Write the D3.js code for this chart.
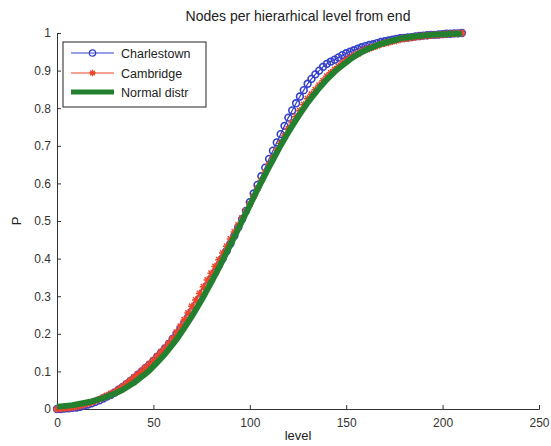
<!DOCTYPE html>
<html>
<head>
<meta charset="utf-8">
<script src="https://cdn.jsdelivr.net/npm/d3@7"></script>
<style>
  body { margin: 0; background: #fff; }
  svg { display: block; font-family: "Liberation Sans", Arial, sans-serif; }
</style>
</head>
<body>
<svg id="chart" width="551" height="446"></svg>
<script>
// levels on the x axis (every 2nd level, 0..210)
const levels = d3.range(0, 211, 2);

// cumulative share of nodes
const charlestown = [
  0.000, 0.000, 0.001, 0.002, 0.003, 0.004, 0.006, 0.009, 0.012, 0.015,
  0.019, 0.023, 0.028, 0.033, 0.038, 0.044, 0.051, 0.058, 0.066, 0.074,
  0.082, 0.091, 0.100, 0.109, 0.118, 0.128, 0.139, 0.150, 0.161, 0.173,
  0.186, 0.200, 0.214, 0.229, 0.244, 0.260, 0.276, 0.293, 0.310, 0.327,
  0.345, 0.363, 0.382, 0.401, 0.420, 0.440, 0.461, 0.483, 0.505, 0.527,
  0.550, 0.573, 0.596, 0.619, 0.642, 0.665, 0.687, 0.709, 0.731, 0.753,
  0.775, 0.794, 0.813, 0.831, 0.848, 0.865, 0.878, 0.890, 0.900, 0.910,
  0.918, 0.924, 0.929, 0.935, 0.941, 0.946, 0.950, 0.954, 0.958, 0.962,
  0.965, 0.968, 0.970, 0.973, 0.976, 0.978, 0.980, 0.982, 0.984, 0.986,
  0.987, 0.988, 0.989, 0.991, 0.992, 0.993, 0.994, 0.995, 0.995, 0.996,
  0.997, 0.998, 0.998, 0.999, 0.999, 1.000
];

const cambridge = [
  0.000, 0.001, 0.002, 0.003, 0.004, 0.006, 0.009, 0.012, 0.015, 0.018,
  0.022, 0.026, 0.031, 0.036, 0.041, 0.046, 0.053, 0.060, 0.068, 0.076,
  0.085, 0.093, 0.102, 0.111, 0.120, 0.130, 0.141, 0.152, 0.163, 0.175,
  0.188, 0.204, 0.220, 0.237, 0.255, 0.273, 0.290, 0.307, 0.325, 0.343,
  0.361, 0.379, 0.397, 0.415, 0.433, 0.452, 0.471, 0.489, 0.508, 0.526,
  0.545, 0.566, 0.587, 0.608, 0.629, 0.650, 0.669, 0.688, 0.707, 0.726,
  0.745, 0.761, 0.777, 0.793, 0.809, 0.825, 0.837, 0.849, 0.861, 0.873,
  0.885, 0.894, 0.903, 0.911, 0.920, 0.928, 0.934, 0.940, 0.945, 0.951,
  0.956, 0.959, 0.963, 0.966, 0.970, 0.973, 0.975, 0.978, 0.980, 0.983,
  0.985, 0.986, 0.988, 0.989, 0.991, 0.992, 0.993, 0.994, 0.995, 0.995,
  0.996, 0.997, 0.998, 0.998, 0.999, 1.000
];

const normalDistr = [
  0.006, 0.007, 0.008, 0.009, 0.010, 0.012, 0.014, 0.016, 0.018, 0.020,
  0.023, 0.026, 0.029, 0.033, 0.037, 0.041, 0.046, 0.051, 0.057, 0.064,
  0.070, 0.078, 0.086, 0.094, 0.103, 0.113, 0.124, 0.135, 0.146, 0.159,
  0.172, 0.185, 0.200, 0.215, 0.231, 0.247, 0.264, 0.281, 0.299, 0.318,
  0.337, 0.356, 0.376, 0.396, 0.417, 0.437, 0.458, 0.479, 0.500, 0.521,
  0.542, 0.563, 0.584, 0.604, 0.624, 0.644, 0.663, 0.682, 0.701, 0.719,
  0.736, 0.753, 0.769, 0.785, 0.800, 0.815, 0.828, 0.841, 0.854, 0.865,
  0.877, 0.887, 0.897, 0.906, 0.914, 0.922, 0.930, 0.937, 0.943, 0.949,
  0.954, 0.959, 0.963, 0.967, 0.971, 0.974, 0.977, 0.980, 0.982, 0.985,
  0.987, 0.988, 0.990, 0.991, 0.992, 0.993, 0.994, 0.995, 0.996, 0.996,
  0.997, 0.997, 0.998, 0.998, 0.998, 0.999
];

const xTicks = [0, 50, 100, 150, 200, 250];
const yTicks = [0, 0.1, 0.2, 0.3, 0.4, 0.5, 0.6, 0.7, 0.8, 0.9, 1];
const seriesNames = ['Charlestown', 'Cambridge', 'Normal distr'];

const blue = '#3340cc';
const red = '#f0442a';
const green = '#23802f';

const svg = d3.select('#chart');
const margin = { left: 57, right: 12, top: 33, bottom: 37 };
const width = 551 - margin.left - margin.right;
const height = 446 - margin.top - margin.bottom;

const x = d3.scaleLinear().domain([0, 250]).range([0, width]);
const y = d3.scaleLinear().domain([0, 1]).range([height, 0]);

const g = svg.append('g').attr('transform', `translate(${margin.left},${margin.top})`);

// axes (matlab style: ticks inward, no box)
const xAxis = g.append('g')
  .attr('transform', `translate(0,${height})`)
  .call(d3.axisBottom(x).tickValues(xTicks).tickSize(-4).tickPadding(9).tickFormat(d3.format('d')));
const yAxis = g.append('g')
  .call(d3.axisLeft(y).tickValues(yTicks).tickSize(-4).tickPadding(6).tickFormat(d => d === 0 || d === 1 ? d : d3.format('.1f')(d)));

[xAxis, yAxis].forEach(a => {
  a.select('.domain').attr('stroke', '#333').attr('stroke-width', 1);
  a.selectAll('.tick line').attr('stroke', '#333');
  a.selectAll('.tick text').attr('fill', '#333').style('font-size', '12px').style('font-family', '"Liberation Sans", Arial, sans-serif');
});

// series
const data = levels.map((l, i) => ({ level: l, c: charlestown[i], b: cambridge[i], n: normalDistr[i] }));
const lineOf = key => d3.line().x(d => x(d.level)).y(d => y(d[key]));

// Charlestown: blue line with circles
g.append('path').datum(data).attr('d', lineOf('c'))
  .attr('fill', 'none').attr('stroke', blue).attr('stroke-width', 1.2);
g.append('g').selectAll('circle').data(data).enter().append('circle')
  .attr('cx', d => x(d.level)).attr('cy', d => y(d.c)).attr('r', 3.4)
  .attr('fill', 'none').attr('stroke', blue).attr('stroke-width', 1.6);

// Cambridge: red line with star markers
const star = (cx, cy, s) => {
  const k = s * 0.72;
  return `M${cx - s},${cy}H${cx + s}M${cx},${cy - s}V${cy + s}` +
    `M${cx - k},${cy - k}L${cx + k},${cy + k}M${cx - k},${cy + k}L${cx + k},${cy - k}`;
};
g.append('path').datum(data).attr('d', lineOf('b'))
  .attr('fill', 'none').attr('stroke', red).attr('stroke-width', 1.2);
g.append('g').selectAll('path').data(data).enter().append('path')
  .attr('d', d => star(x(d.level), y(d.b), 3.8))
  .attr('stroke', red).attr('stroke-width', 1.5);

// Normal distribution: thick green line
g.append('path').datum(data).attr('d', lineOf('n'))
  .attr('fill', 'none').attr('stroke', green).attr('stroke-width', 6);

// labels
svg.append('text').attr('x', margin.left + width / 2).attr('y', 21)
  .attr('text-anchor', 'middle').style('font-size', '14px').attr('fill', '#222')
  .text('Nodes per hierarhical level from end');
svg.append('text').attr('x', margin.left + width / 2).attr('y', 440)
  .attr('text-anchor', 'middle').style('font-size', '13px').attr('fill', '#222')
  .text('level');
svg.append('text').attr('transform', `translate(21,${margin.top + height / 2}) rotate(-90)`)
  .attr('text-anchor', 'middle').style('font-size', '13px').attr('fill', '#222')
  .text('P');

// legend
const legend = svg.append('g').attr('transform', 'translate(63,42)');
legend.append('rect').attr('width', 143).attr('height', 65)
  .attr('fill', '#fff').attr('stroke', '#222').attr('stroke-width', 1);
const rowY = [11, 31, 50];
seriesNames.forEach((name, i) => {
  const row = legend.append('g').attr('transform', `translate(0,${rowY[i]})`);
  if (i === 2) {
    row.append('line').attr('x1', 8).attr('x2', 51).attr('stroke', green).attr('stroke-width', 5);
  } else {
    row.append('line').attr('x1', 8).attr('x2', 51).attr('stroke', i === 0 ? blue : red).attr('stroke-width', 1);
    if (i === 0) {
      row.append('circle').attr('cx', 29.5).attr('r', 3.2).attr('fill', 'none').attr('stroke', blue).attr('stroke-width', 1.2);
    } else {
      row.append('path').attr('d', star(29.5, 0, 3.2)).attr('stroke', red).attr('stroke-width', 1.3);
    }
  }
  row.append('text').attr('x', 58).attr('y', 5).style('font-size', '12.5px').attr('fill', '#222').text(name);
});
</script>
</body>
</html>
